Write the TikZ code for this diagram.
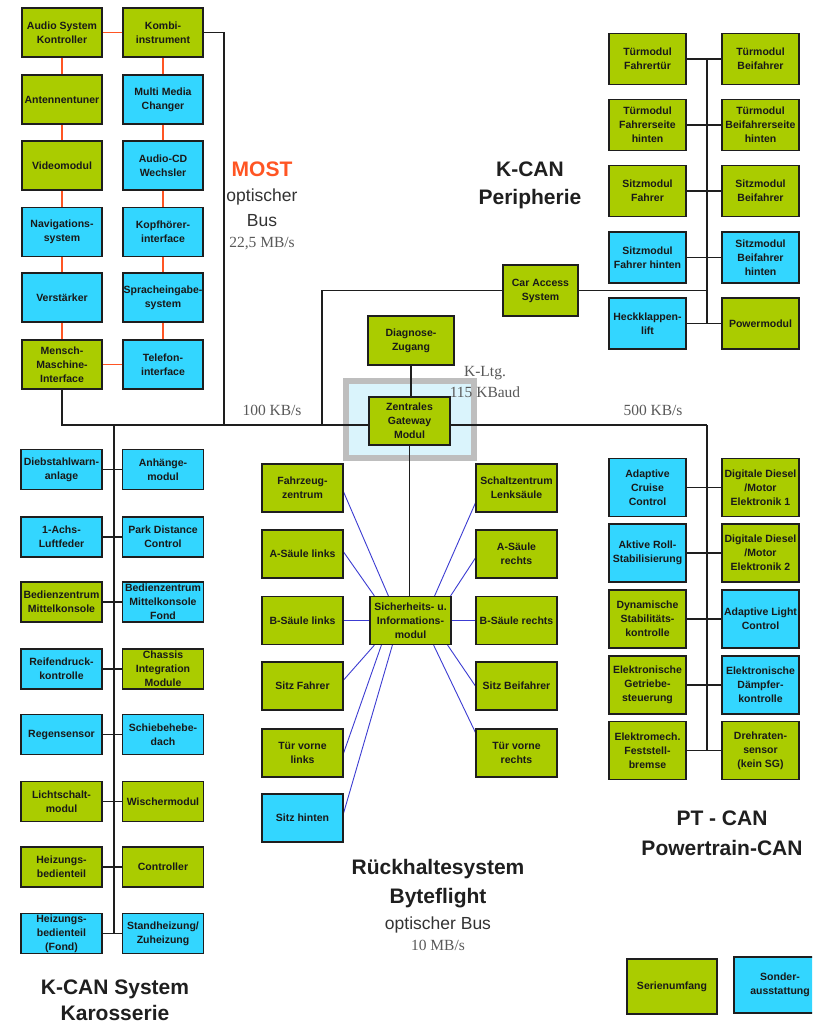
\documentclass[tikz,border=0pt]{standalone}
\usepackage{fontspec}
\setmainfont{Liberation Sans}
\newfontfamily\seriffont{Liberation Serif}
\usetikzlibrary{calc,backgrounds}
\definecolor{cgreen}{RGB}{170,204,0}
\definecolor{cblue}{RGB}{51,214,255}
\definecolor{corange}{RGB}{255,85,35}
\definecolor{cline}{RGB}{30,30,30}
\definecolor{cstar}{RGB}{60,60,210}
\definecolor{hlfill}{RGB}{218,244,252}
\definecolor{hlborder}{RGB}{190,190,190}
\begin{document}
\begin{tikzpicture}[x=1pt,y=-1pt,
  ecu/.style={draw=cline, line width=1.2pt, inner sep=0pt, align=center,
    font=\fontsize{10.5}{14}\selectfont\bfseries, text=black!90},
  std/.style={ecu, fill=cgreen},
  opt/.style={ecu, fill=cblue},
  wh/.style 2 args={minimum width=#1, minimum height=#2},
  mostline/.style={draw=corange, line width=1.5pt},
  busline/.style={draw=cline, line width=1.2pt},
  starline/.style={draw=cstar, line width=0.9pt},
  title/.style={font=\fontsize{21}{29}\selectfont\bfseries, text=black!88, anchor=base},
  sub/.style={font=\fontsize{17.5}{23}\selectfont, text=black!80, anchor=base},
  rate/.style={font=\seriffont\fontsize{15.5}{19}\selectfont, text=black!65, anchor=base},
]
\useasboundingbox (0,0) rectangle (812,1026);
\clip (0,0) rectangle (812,1026);

% ---------------- MOST ----------------
\begin{scope}[every node/.append style={wh={80pt}{49pt}}]
\node[std] (asc) at (62,32.5) {Audio System\\Kontroller};
\node[std] (kombi) at (163,32.5) {Kombi-\\instrument};
\node[std] (ant) at (62,99.5) {Antennentuner};
\node[opt] (mmc) at (163,99.5) {Multi Media\\Changer};
\node[std] (video) at (62,165.5) {Videomodul};
\node[opt] (cdw) at (163,165.5) {Audio-CD\\Wechsler};
\node[opt] (navi) at (62,232) {Navigations-\\system};
\node[opt] (kopf) at (163,232) {Kopfhörer-\\interface};
\node[opt] (verst) at (62,297.5) {Verstärker};
\node[opt] (sprach) at (163,297.5) {Spracheingabe-\\system};
\node[std] (mmi) at (62,364.5) {Mensch-\\Maschine-\\Interface};
\node[opt] (tel) at (163,364.5) {Telefon-\\interface};
\end{scope}

% ---------------- K-CAN Peripherie ----------------
\begin{scope}[every node/.append style={wh={77pt}{51pt}}]
\node[std] (tfa) at (647.5,59) {Türmodul\\Fahrertür};
\node[std] (tbf) at (760.5,59) {Türmodul\\Beifahrer};
\node[std] (tfh) at (647.5,125) {Türmodul\\Fahrerseite\\hinten};
\node[std] (tbh) at (760.5,125) {Türmodul\\Beifahrerseite\\hinten};
\node[std] (sfa) at (647.5,191) {Sitzmodul\\Fahrer};
\node[std] (sbf) at (760.5,191) {Sitzmodul\\Beifahrer};
\node[opt] (sfh) at (647.5,257.5) {Sitzmodul\\Fahrer hinten};
\node[opt] (sbh) at (760.5,257.5) {Sitzmodul\\Beifahrer\\hinten};
\node[opt] (hkl) at (647.5,323.5) {Heckklappen-\\lift};
\node[std] (power) at (760.5,323.5) {Powermodul};
\end{scope}
\node[std, wh={75pt}{51pt}] (cas) at (540.5,290.5) {Car Access\\System};

% ---------------- Gateway ----------------
\node[std, wh={86pt}{49pt}] (diag) at (411,340.5) {Diagnose-\\Zugang};
\node[std, wh={81pt}{48pt}] (zgm) at (409.5,421) {Zentrales\\Gateway\\Modul};

% ---------------- PT-CAN ----------------
\begin{scope}[every node/.append style={wh={77pt}{58pt}}]
\node[opt] (acc) at (647.5,487.5) {Adaptive\\Cruise\\Control};
\node[std] (dde1) at (760.5,487.5) {Digitale Diesel\\/Motor\\Elektronik 1};
\node[opt] (ars) at (647.5,553) {Aktive Roll-\\Stabilisierung};
\node[std] (dde2) at (760.5,553) {Digitale Diesel\\/Motor\\Elektronik 2};
\node[std] (dsc) at (647.5,619) {Dynamische\\Stabilitäts-\\kontrolle};
\node[opt] (alc) at (760.5,619) {Adaptive Light\\Control};
\node[std] (egs) at (647.5,685) {Elektronische\\Getriebe-\\steuerung};
\node[opt] (edc) at (760.5,685) {Elektronische\\Dämpfer-\\kontrolle};
\node[std] (emf) at (647.5,750.5) {Elektromech.\\Feststell-\\bremse};
\node[std] (drs) at (760.5,750.5) {Drehraten-\\sensor\\(kein SG)};
\end{scope}

% ---------------- K-CAN Karosserie ----------------
\begin{scope}[every node/.append style={wh={81pt}{40pt}}]
\node[opt] (dwa) at (61.5,469.5) {Diebstahlwarn-\\anlage};
\node[opt] (ahm) at (163,469.5) {Anhänge-\\modul};
\node[opt] (alf) at (61.5,537) {1-Achs-\\Luftfeder};
\node[opt] (pdc) at (163,537) {Park Distance\\Control};
\node[std] (bzm) at (61.5,602) {Bedienzentrum\\Mittelkonsole};
\node[opt] (bzf) at (163,602) {Bedienzentrum\\Mittelkonsole\\Fond};
\node[opt] (rdc) at (61.5,669) {Reifendruck-\\kontrolle};
\node[std] (cim) at (163,669) {Chassis\\Integration\\Module};
\node[opt] (rls) at (61.5,734.5) {Regensensor};
\node[opt] (shd) at (163,734.5) {Schiebehebe-\\dach};
\node[std] (lsm) at (61.5,801.5) {Lichtschalt-\\modul};
\node[std] (wim) at (163,801.5) {Wischermodul};
\node[std] (hbt) at (61.5,867) {Heizungs-\\bedienteil};
\node[std] (ctrl) at (163,867) {Controller};
\node[opt] (hbf) at (61.5,933.5) {Heizungs-\\bedienteil\\(Fond)};
\node[opt] (shz) at (163,933.5) {Standheizung/\\Zuheizung};
\end{scope}

% ---------------- Byteflight ----------------
\begin{scope}[every node/.append style={wh={81pt}{48pt}}]
\node[std] (fzz) at (302.5,488) {Fahrzeug-\\zentrum};
\node[std] (szl) at (516.5,488) {Schaltzentrum\\Lenksäule};
\node[std] (asl) at (302.5,554) {A-Säule links};
\node[std] (asr) at (516.5,554) {A-Säule\\rechts};
\node[std] (bsl) at (302.5,620.5) {B-Säule links};
\node[std] (bsr) at (516.5,620.5) {B-Säule rechts};
\node[std] (sfr) at (302.5,686) {Sitz Fahrer};
\node[std] (sbr) at (516.5,686) {Sitz Beifahrer};
\node[std] (tvl) at (302.5,753) {Tür vorne\\links};
\node[std] (tvr) at (516.5,753) {Tür vorne\\rechts};
\node[opt] (sht) at (302.5,818) {Sitz hinten};
\node[std] (sim) at (410.5,620.5) {Sicherheits- u.\\Informations-\\modul};
\end{scope}

% ---------------- Legend ----------------
\node[std, wh={90pt}{55pt}] (leg1) at (672,986.5) {Serienumfang};
\node[opt, wh={92pt}{56pt}] (leg2) at (780,985) {Sonder-\\ausstattung};

% ---------------- Labels ----------------
\node[title, text=corange] (tmost) at (262,176) {MOST};
\node[sub] (tmost2) at (262,201) {optischer};
\node[sub] (tmost3) at (262,226) {Bus};
\node[rate] (tmost4) at (262,247) {22,5 MB/s};
\node[title] (tper1) at (530,176) {K-CAN};
\node[title] (tper2) at (530,204) {Peripherie};
\node[rate] (tk1) at (485,376) {K-Ltg.};
\node[rate] (tk2) at (485,397) {115 KBaud};
\node[rate] (t100) at (272,415) {100 KB/s};
\node[rate] (t500) at (653,415) {500 KB/s};
\node[title] (tpt1) at (722,825) {PT - CAN};
\node[title] (tpt2) at (722,855) {Powertrain-CAN};
\node[title] (tbf1) at (438,874) {Rückhaltesystem};
\node[title] (tbf2) at (438,903) {Byteflight};
\node[sub] (tbf3) at (438,929) {optischer Bus};
\node[rate] (tbf4) at (438,950) {10 MB/s};
\node[title] (tkk1) at (115,994) {K-CAN System};
\node[title] (tkk2) at (115,1020) {Karosserie};

% ---------------- Connectors (behind boxes) ----------------
\begin{scope}[on background layer]
\fill[white] (0,0) rectangle (812,1026);
\draw[draw=hlborder, fill=hlfill, line width=6pt] (346,381) rectangle (474,458);

\coordinate (mostTop) at (224,32.5);
\coordinate (mostBot) at (224,425);
\coordinate (busL) at (62,425);
\coordinate (busR) at (707,425);
\coordinate (kcanL) at (114,425);
\coordinate (kcanLend) at (114,933.5);
\coordinate (ptEnd) at (707,750.5);
\coordinate (perTop) at (707,59);
\coordinate (perBot) at (707,323.5);
\coordinate (casBus) at (322,425);
\coordinate (casR) at (707,290.5);

% MOST ring
\foreach \a/\b in {asc/ant, ant/video, video/navi, navi/verst, verst/mmi,
                   kombi/mmc, mmc/cdw, cdw/kopf, kopf/sprach, sprach/tel,
                   asc/kombi, mmi/tel}
  \draw[mostline] (\a) -- (\b);
\draw[busline] (kombi.east) -- (mostTop) -- (mostBot);

% main bus
\draw[busline] (mmi.south) -- (busL) -- (busR);
\draw[busline] (kcanL) -- (kcanLend);
\draw[busline] (busR) -- (ptEnd);
\draw[busline] (diag.south) -- (diag.south |- zgm.north);
\draw[busline] (zgm.south) -- (zgm.south |- sim.north);

% K-CAN Peripherie
\draw[busline] (cas.west) -| (casBus);
\draw[busline] (cas.east) -- (casR);
\draw[busline] (perTop) -- (perBot);
\foreach \a/\b in {tfa/tbf, tfh/tbh, sfa/sbf, sfh/sbh, hkl/power}
  \draw[busline] (\a.east) -- (\b.west);

% PT-CAN
\foreach \a/\b in {acc/dde1, ars/dde2, dsc/alc, egs/edc, emf/drs}
  \draw[busline] (\a.east) -- (\b.west);

% K-CAN Karosserie
\foreach \a/\b in {dwa/ahm, alf/pdc, bzm/bzf, rdc/cim, rls/shd, lsm/wim, hbt/ctrl, hbf/shz}
  \draw[busline] (\a.east) -- (\b.west);

% Byteflight star
\draw[starline] ($(fzz.east)+(0,4)$) -- ($(sim.north west)+(19,0)$);
\draw[starline] ($(asl.east)+(0,-2)$) -- ($(sim.north west)+(5,0)$);
\draw[starline] (bsl.east) -- (sim.west);
\draw[starline] ($(sfr.east)+(0,-6)$) -- ($(sim.south west)+(5,0)$);
\draw[starline] (tvl.east) -- ($(sim.south west)+(12,0)$);
\draw[starline] ($(sht.east)+(0,-5)$) -- ($(sim.south west)+(23,0)$);
\draw[starline] ($(szl.west)+(0,15)$) -- ($(sim.north east)+(-17,0)$);
\draw[starline] ($(asr.west)+(0,4)$) -- ($(sim.north east)+(-1,0)$);
\draw[starline] (bsr.west) -- (sim.east);
\draw[starline] (sbr.west) -- ($(sim.south east)+(-4,0)$);
\draw[starline] ($(tvr.north west)+(0,4)$) -- ($(sim.south east)+(-18,0)$);
\end{scope}
\end{tikzpicture}
\end{document}
